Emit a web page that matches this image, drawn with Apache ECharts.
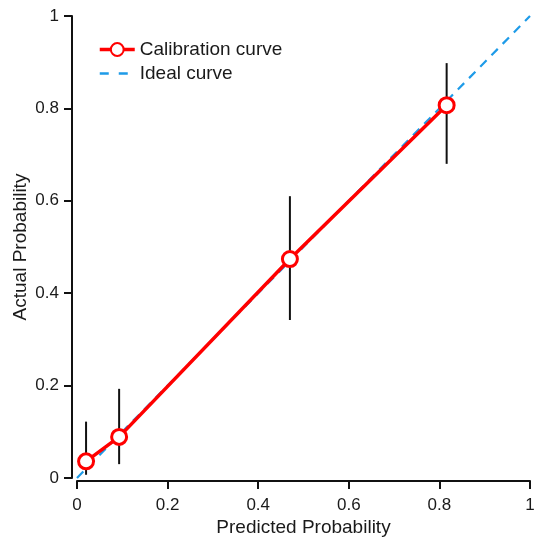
<!DOCTYPE html>
<html>
<head>
<meta charset="utf-8">
<script src="https://cdn.jsdelivr.net/npm/echarts@6/dist/echarts.min.js"></script>
<style>
  html, body { margin: 0; padding: 0; background: #fff; }
  #chart { width: 534px; height: 543px; }
</style>
</head>
<body>
<div id="chart"></div>
<script>
// 校准曲线数据
const predicted = [0.02, 0.093, 0.47, 0.816];
const actual = [0.036, 0.089, 0.474, 0.807];
const lower = [0.007, 0.03, 0.342, 0.68];
const upper = [0.122, 0.193, 0.61, 0.898];
const ideal = [[0, 0], [1, 1]];
const ticks = [0, 0.2, 0.4, 0.6, 0.8, 1];

const chart = echarts.init(document.getElementById("chart"));
const font = "Liberation Sans";
const textColor = "#1a1a1a";

const axisCommon = {
  type: "value",
  min: ticks[0],
  max: ticks[ticks.length - 1],
  interval: ticks[1] - ticks[0],
  nameLocation: "middle",
  nameMoveOverlap: false,
  nameTextStyle: { color: textColor, fontSize: 19, fontFamily: font },
  splitLine: { show: false },
  axisLine: { show: true, onZero: false, lineStyle: { color: "#111", width: 2 } },
  axisTick: { show: true, length: 8, lineStyle: { color: "#111", width: 2 } },
  axisLabel: { color: textColor, fontSize: 17, fontFamily: font },
};

const options = {
  animation: false,
  grid: { left: 77, right: 4, top: 16, bottom: 65, outerBoundsMode: "none" },
  legend: {
    left: 98,
    top: 40,
    padding: 0,
    orient: "vertical",
    itemWidth: 35,
    itemHeight: 16,
    itemGap: 5,
    textStyle: { color: textColor, fontSize: 19, fontFamily: font },
    data: [
      { name: "Calibration curve", lineStyle: { width: 3.5 } },
      { name: "Ideal curve", itemStyle: { opacity: 0 }, lineStyle: { type: [9, 10], width: 2.5 } },
    ],
  },
  xAxis: {
    ...axisCommon,
    name: "Predicted Probability",
    nameGap: 37,
    offset: 3,
    axisLabel: { ...axisCommon.axisLabel, margin: 16 },
  },
  yAxis: {
    ...axisCommon,
    name: "Actual Probability",
    nameGap: 42,
    offset: 5,
    axisLabel: { ...axisCommon.axisLabel, margin: 13 },
  },
  series: [
    {
      name: "Error bar",
      type: "custom",
      z: 1,
      data: predicted.map((x, i) => [x, lower[i], upper[i]]),
      renderItem: function (params, api) {
        const p1 = api.coord([api.value(0), api.value(1)]);
        const p2 = api.coord([api.value(0), api.value(2)]);
        return {
          type: "line",
          shape: { x1: p1[0], y1: p1[1], x2: p2[0], y2: p2[1] },
          style: { stroke: "#111", lineWidth: 2 },
        };
      },
    },
    {
      name: "Ideal curve",
      type: "line",
      z: 2,
      data: ideal,
      symbol: "none",
      color: "#1e9be8",
      lineStyle: { color: "#1e9be8", width: 2.2, type: [9, 7] },
    },
    {
      name: "Calibration curve",
      type: "line",
      z: 3,
      data: predicted.map((x, i) => [x, actual[i]]),
      symbol: "circle",
      symbolSize: 15,
      color: "#ff0000",
      lineStyle: { color: "#ff0000", width: 3.5 },
      itemStyle: { color: "#fff", borderColor: "#ff0000", borderWidth: 3 },
    },
  ],
};

chart.setOption(options);
</script>
</body>
</html>
